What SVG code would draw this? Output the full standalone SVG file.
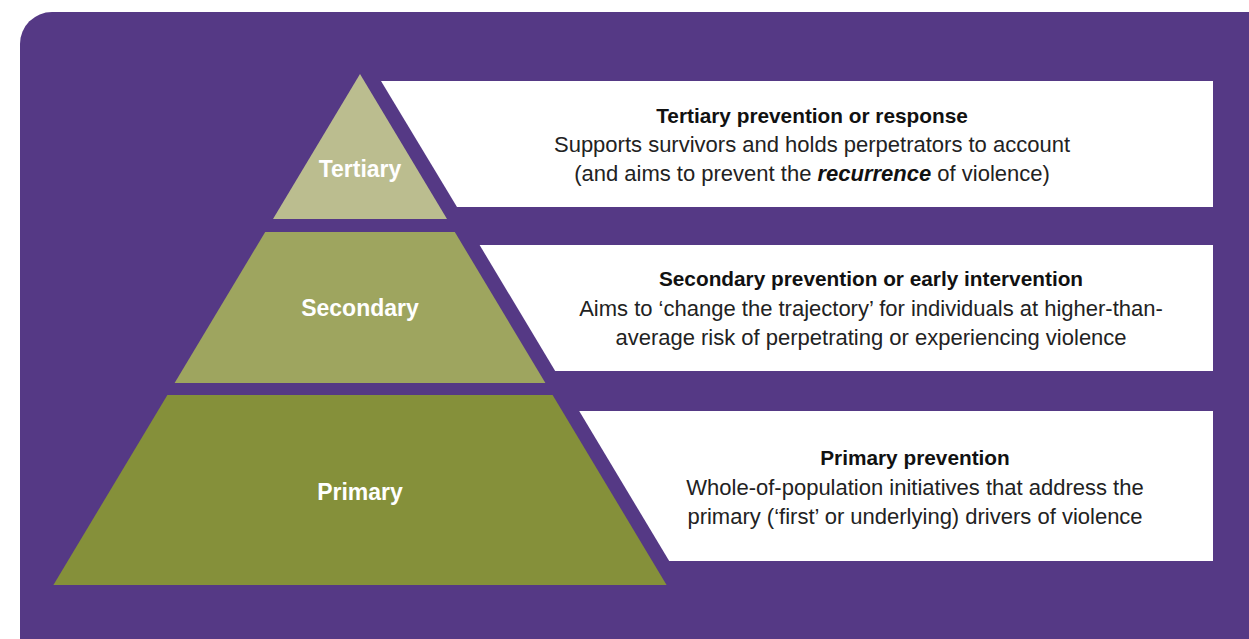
<svg xmlns="http://www.w3.org/2000/svg" width="1249" height="639" viewBox="0 0 1249 639">
  <style>
    .bg { fill: #553985; }
    .box { fill: #ffffff; }
    .lvl { font-family: "Liberation Sans", Arial, sans-serif; font-weight: bold; font-size: 23px; fill: #ffffff; text-anchor: middle; }
    .ttl { font-family: "Liberation Sans", Arial, sans-serif; font-weight: bold; font-size: 20.8px; fill: #111111; text-anchor: middle; }
    .body { font-family: "Liberation Sans", Arial, sans-serif; font-size: 22px; fill: #222222; text-anchor: middle; }
    .em { font-weight: bold; font-style: italic; fill: #111111; }
  </style>
  <rect width="1249" height="639" fill="#ffffff"/>
  <rect class="bg" x="20" y="12" width="1270" height="680" rx="32" ry="32"/>

  <g id="tertiary">
    <polygon points="360,74 447,219 273,219" fill="#bbbd8f"/>
    <text class="lvl" x="360" y="177">Tertiary</text>
  </g>
  <g id="tertiary-box">
    <polygon class="box" points="381,81 1213,81 1213,207 457,207"/>
    <text class="ttl" x="812" y="123">Tertiary prevention or response</text>
    <text class="body" x="812" y="152">Supports survivors and holds perpetrators to account</text>
    <text class="body" x="812" y="181">(and aims to prevent the <tspan class="em">recurrence</tspan> of violence)</text>
  </g>

  <g id="secondary">
    <polygon points="265.2,232 454.8,232 545.4,383 174.6,383" fill="#9ea55f"/>
    <text class="lvl" x="360" y="316">Secondary</text>
  </g>
  <g id="secondary-box">
    <polygon class="box" points="479.6,245 1213,245 1213,371 555.2,371"/>
    <text class="ttl" x="871" y="286">Secondary prevention or early intervention</text>
    <text class="body" x="871" y="316">Aims to ‘change the trajectory’ for individuals at higher-than-</text>
    <text class="body" x="871" y="345">average risk of perpetrating or experiencing violence</text>
  </g>

  <g id="primary">
    <polygon points="167.4,395 552.6,395 666.6,585 53.4,585" fill="#85903a"/>
    <text class="lvl" x="360" y="500">Primary</text>
  </g>
  <g id="primary-box">
    <polygon class="box" points="579.2,411 1213,411 1213,561 669.2,561"/>
    <text class="ttl" x="915" y="465">Primary prevention</text>
    <text class="body" x="915" y="495">Whole-of-population initiatives that address the</text>
    <text class="body" x="915" y="524">primary (‘first’ or underlying) drivers of violence</text>
  </g>
</svg>
